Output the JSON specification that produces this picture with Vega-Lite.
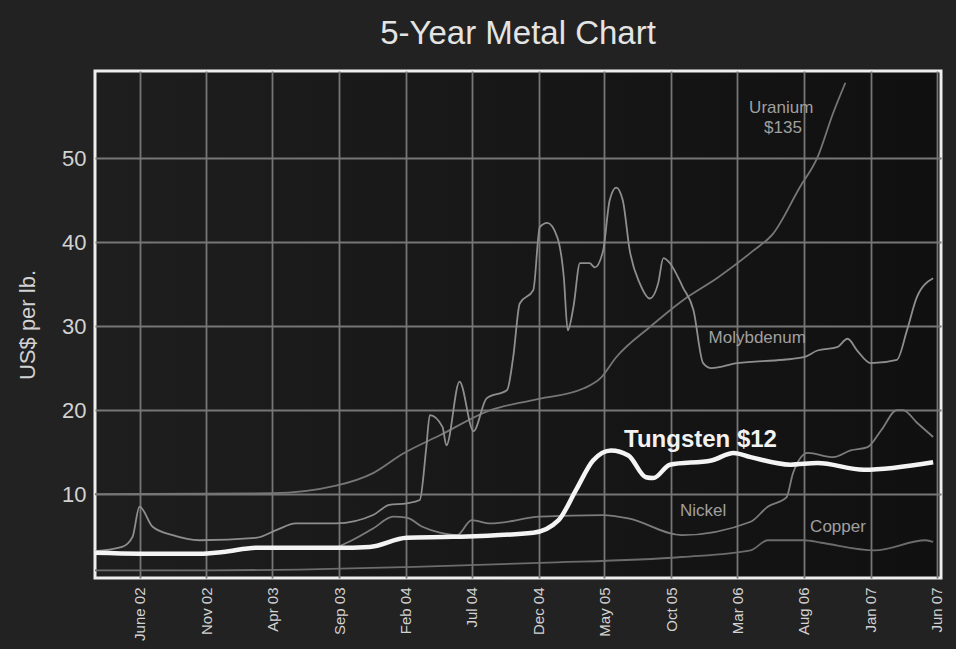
{
  "$schema": "https://vega.github.io/schema/vega-lite/v6.json",
  "autosize": {"type": "none"},
  "width": 846,
  "height": 507,
  "padding": {"left": 95, "top": 71, "right": 15, "bottom": 71},
  "background": "#222222",
  "title": {"text": "5-Year Metal Chart", "fontSize": 33, "font": "Liberation Sans", "fontWeight": "normal", "color": "#e4e4e4", "offset": 20, "anchor": "middle"},
  "config": {
    "view": {"stroke": "#eeeeee", "strokeWidth": 3, "fill": {"gradient": "linear", "x1": 0, "y1": 0, "x2": 1, "y2": 0, "stops": [{"offset": 0, "color": "#1e1e1e"}, {"offset": 1, "color": "#101010"}]}},
    "axis": {"labelFont": "Liberation Sans", "titleFont": "Liberation Sans", "gridColor": "#767676", "gridWidth": 1.8, "gridOpacity": 1, "domain": false, "ticks": false, "labelColor": "#d2d2d2", "titleColor": "#d2d2d2"}
  },
  "datasets": {
    "series": [
      {"metal": "Uranium", "date": "2002-02-19", "value": 10.0},
      {"metal": "Uranium", "date": "2003-04-01", "value": 10.1},
      {"metal": "Uranium", "date": "2003-08-25", "value": 11.0},
      {"metal": "Uranium", "date": "2003-11-18", "value": 12.5},
      {"metal": "Uranium", "date": "2004-01-25", "value": 14.8},
      {"metal": "Uranium", "date": "2004-04-19", "value": 17.0},
      {"metal": "Uranium", "date": "2004-08-13", "value": 20.0},
      {"metal": "Uranium", "date": "2004-11-19", "value": 21.2},
      {"metal": "Uranium", "date": "2005-03-15", "value": 22.6},
      {"metal": "Uranium", "date": "2005-04-22", "value": 23.8},
      {"metal": "Uranium", "date": "2005-05-28", "value": 26.3},
      {"metal": "Uranium", "date": "2005-08-13", "value": 29.9},
      {"metal": "Uranium", "date": "2005-10-28", "value": 33.1},
      {"metal": "Uranium", "date": "2006-01-16", "value": 35.8},
      {"metal": "Uranium", "date": "2006-04-07", "value": 39.0},
      {"metal": "Uranium", "date": "2006-05-22", "value": 41.0},
      {"metal": "Uranium", "date": "2006-07-22", "value": 46.5},
      {"metal": "Uranium", "date": "2006-09-01", "value": 50.1},
      {"metal": "Uranium", "date": "2006-10-07", "value": 55.4},
      {"metal": "Uranium", "date": "2006-11-04", "value": 59.0},

      {"metal": "Molybdenum", "date": "2002-02-19", "value": 3.2},
      {"metal": "Molybdenum", "date": "2002-04-22", "value": 3.7},
      {"metal": "Molybdenum", "date": "2002-05-16", "value": 4.9},
      {"metal": "Molybdenum", "date": "2002-06-01", "value": 8.5},
      {"metal": "Molybdenum", "date": "2002-07-01", "value": 6.1},
      {"metal": "Molybdenum", "date": "2002-08-16", "value": 5.1},
      {"metal": "Molybdenum", "date": "2002-10-16", "value": 4.5},
      {"metal": "Molybdenum", "date": "2003-02-25", "value": 4.8},
      {"metal": "Molybdenum", "date": "2003-04-10", "value": 5.7},
      {"metal": "Molybdenum", "date": "2003-05-25", "value": 6.5},
      {"metal": "Molybdenum", "date": "2003-08-25", "value": 6.5},
      {"metal": "Molybdenum", "date": "2003-11-18", "value": 7.5},
      {"metal": "Molybdenum", "date": "2003-12-25", "value": 8.7},
      {"metal": "Molybdenum", "date": "2004-02-03", "value": 8.9},
      {"metal": "Molybdenum", "date": "2004-03-04", "value": 9.3},
      {"metal": "Molybdenum", "date": "2004-03-19", "value": 15.6},
      {"metal": "Molybdenum", "date": "2004-03-27", "value": 19.4},
      {"metal": "Molybdenum", "date": "2004-04-25", "value": 18.0},
      {"metal": "Molybdenum", "date": "2004-05-04", "value": 15.8},
      {"metal": "Molybdenum", "date": "2004-06-03", "value": 23.4},
      {"metal": "Molybdenum", "date": "2004-07-05", "value": 17.5},
      {"metal": "Molybdenum", "date": "2004-08-04", "value": 21.4},
      {"metal": "Molybdenum", "date": "2004-09-20", "value": 22.4},
      {"metal": "Molybdenum", "date": "2004-10-04", "value": 26.3},
      {"metal": "Molybdenum", "date": "2004-10-19", "value": 32.7},
      {"metal": "Molybdenum", "date": "2004-11-19", "value": 34.3},
      {"metal": "Molybdenum", "date": "2004-12-04", "value": 41.8},
      {"metal": "Molybdenum", "date": "2004-12-21", "value": 42.3},
      {"metal": "Molybdenum", "date": "2005-01-13", "value": 40.6},
      {"metal": "Molybdenum", "date": "2005-01-28", "value": 35.8},
      {"metal": "Molybdenum", "date": "2005-02-06", "value": 29.5},
      {"metal": "Molybdenum", "date": "2005-02-19", "value": 32.3},
      {"metal": "Molybdenum", "date": "2005-03-06", "value": 37.5},
      {"metal": "Molybdenum", "date": "2005-03-28", "value": 37.5},
      {"metal": "Molybdenum", "date": "2005-04-09", "value": 37.0},
      {"metal": "Molybdenum", "date": "2005-04-28", "value": 39.0},
      {"metal": "Molybdenum", "date": "2005-05-13", "value": 45.0},
      {"metal": "Molybdenum", "date": "2005-05-28", "value": 46.5},
      {"metal": "Molybdenum", "date": "2005-06-12", "value": 45.0},
      {"metal": "Molybdenum", "date": "2005-06-28", "value": 39.0},
      {"metal": "Molybdenum", "date": "2005-07-21", "value": 35.1},
      {"metal": "Molybdenum", "date": "2005-08-13", "value": 33.3},
      {"metal": "Molybdenum", "date": "2005-09-01", "value": 35.1},
      {"metal": "Molybdenum", "date": "2005-09-13", "value": 38.1},
      {"metal": "Molybdenum", "date": "2005-09-28", "value": 37.5},
      {"metal": "Molybdenum", "date": "2005-10-28", "value": 34.6},
      {"metal": "Molybdenum", "date": "2005-11-21", "value": 31.9},
      {"metal": "Molybdenum", "date": "2005-12-13", "value": 25.6},
      {"metal": "Molybdenum", "date": "2006-01-01", "value": 25.0},
      {"metal": "Molybdenum", "date": "2006-03-01", "value": 25.6},
      {"metal": "Molybdenum", "date": "2006-06-15", "value": 26.0},
      {"metal": "Molybdenum", "date": "2006-08-01", "value": 26.3},
      {"metal": "Molybdenum", "date": "2006-09-01", "value": 27.1},
      {"metal": "Molybdenum", "date": "2006-10-16", "value": 27.5},
      {"metal": "Molybdenum", "date": "2006-11-09", "value": 28.5},
      {"metal": "Molybdenum", "date": "2006-12-01", "value": 27.1},
      {"metal": "Molybdenum", "date": "2007-01-01", "value": 25.6},
      {"metal": "Molybdenum", "date": "2007-03-02", "value": 26.0},
      {"metal": "Molybdenum", "date": "2007-03-25", "value": 29.5},
      {"metal": "Molybdenum", "date": "2007-04-17", "value": 33.5},
      {"metal": "Molybdenum", "date": "2007-05-24", "value": 35.7},

      {"metal": "Nickel", "date": "2002-02-19", "value": 3.0},
      {"metal": "Nickel", "date": "2002-10-16", "value": 2.9},
      {"metal": "Nickel", "date": "2003-02-25", "value": 3.5},
      {"metal": "Nickel", "date": "2003-08-25", "value": 3.7},
      {"metal": "Nickel", "date": "2003-09-19", "value": 4.2},
      {"metal": "Nickel", "date": "2003-11-18", "value": 5.9},
      {"metal": "Nickel", "date": "2004-01-03", "value": 7.3},
      {"metal": "Nickel", "date": "2004-02-03", "value": 7.2},
      {"metal": "Nickel", "date": "2004-03-10", "value": 6.1},
      {"metal": "Nickel", "date": "2004-04-19", "value": 5.4},
      {"metal": "Nickel", "date": "2004-05-28", "value": 5.1},
      {"metal": "Nickel", "date": "2004-07-01", "value": 6.9},
      {"metal": "Nickel", "date": "2004-08-13", "value": 6.5},
      {"metal": "Nickel", "date": "2004-12-04", "value": 7.3},
      {"metal": "Nickel", "date": "2005-04-28", "value": 7.5},
      {"metal": "Nickel", "date": "2005-06-25", "value": 7.1},
      {"metal": "Nickel", "date": "2005-10-25", "value": 5.1},
      {"metal": "Nickel", "date": "2006-04-01", "value": 6.7},
      {"metal": "Nickel", "date": "2006-05-10", "value": 8.5},
      {"metal": "Nickel", "date": "2006-06-22", "value": 9.6},
      {"metal": "Nickel", "date": "2006-07-07", "value": 12.5},
      {"metal": "Nickel", "date": "2006-08-10", "value": 14.9},
      {"metal": "Nickel", "date": "2006-10-07", "value": 14.4},
      {"metal": "Nickel", "date": "2006-11-16", "value": 15.2},
      {"metal": "Nickel", "date": "2006-12-25", "value": 15.6},
      {"metal": "Nickel", "date": "2007-01-25", "value": 17.6},
      {"metal": "Nickel", "date": "2007-03-02", "value": 20.0},
      {"metal": "Nickel", "date": "2007-03-16", "value": 20.0},
      {"metal": "Nickel", "date": "2007-04-17", "value": 18.5},
      {"metal": "Nickel", "date": "2007-05-24", "value": 16.8},

      {"metal": "Copper", "date": "2002-02-19", "value": 0.9},
      {"metal": "Copper", "date": "2002-10-16", "value": 0.9},
      {"metal": "Copper", "date": "2003-06-01", "value": 1.0},
      {"metal": "Copper", "date": "2004-02-03", "value": 1.3},
      {"metal": "Copper", "date": "2004-12-04", "value": 1.8},
      {"metal": "Copper", "date": "2005-10-25", "value": 2.5},
      {"metal": "Copper", "date": "2006-04-01", "value": 3.3},
      {"metal": "Copper", "date": "2006-05-10", "value": 4.5},
      {"metal": "Copper", "date": "2006-08-01", "value": 4.5},
      {"metal": "Copper", "date": "2006-09-10", "value": 4.2},
      {"metal": "Copper", "date": "2007-01-10", "value": 3.3},
      {"metal": "Copper", "date": "2007-05-07", "value": 4.5},
      {"metal": "Copper", "date": "2007-05-24", "value": 4.3},

      {"metal": "Tungsten", "date": "2002-02-19", "value": 3.0},
      {"metal": "Tungsten", "date": "2002-06-01", "value": 2.9},
      {"metal": "Tungsten", "date": "2002-10-16", "value": 2.9},
      {"metal": "Tungsten", "date": "2002-12-09", "value": 3.1},
      {"metal": "Tungsten", "date": "2003-02-25", "value": 3.6},
      {"metal": "Tungsten", "date": "2003-08-25", "value": 3.6},
      {"metal": "Tungsten", "date": "2003-11-10", "value": 3.7},
      {"metal": "Tungsten", "date": "2004-02-03", "value": 4.8},
      {"metal": "Tungsten", "date": "2004-05-19", "value": 4.9},
      {"metal": "Tungsten", "date": "2004-11-19", "value": 5.4},
      {"metal": "Tungsten", "date": "2005-01-16", "value": 6.9},
      {"metal": "Tungsten", "date": "2005-02-25", "value": 10.5},
      {"metal": "Tungsten", "date": "2005-04-05", "value": 14.0},
      {"metal": "Tungsten", "date": "2005-05-16", "value": 15.2},
      {"metal": "Tungsten", "date": "2005-06-25", "value": 14.6},
      {"metal": "Tungsten", "date": "2005-08-04", "value": 12.0},
      {"metal": "Tungsten", "date": "2005-08-21", "value": 11.9},
      {"metal": "Tungsten", "date": "2005-09-28", "value": 13.5},
      {"metal": "Tungsten", "date": "2006-01-01", "value": 14.0},
      {"metal": "Tungsten", "date": "2006-02-21", "value": 14.9},
      {"metal": "Tungsten", "date": "2006-04-01", "value": 14.4},
      {"metal": "Tungsten", "date": "2006-07-01", "value": 13.5},
      {"metal": "Tungsten", "date": "2006-09-01", "value": 13.7},
      {"metal": "Tungsten", "date": "2006-12-16", "value": 12.9},
      {"metal": "Tungsten", "date": "2007-05-24", "value": 13.8}
    ],
    "labels": [
      {"label": "Uranium", "date": "2006-06-10", "value": 56.0},
      {"label": "$135", "date": "2006-06-14", "value": 53.6},
      {"label": "Molybdenum", "date": "2006-04-16", "value": 28.6},
      {"label": "Nickel", "date": "2005-12-13", "value": 8.0},
      {"label": "Copper", "date": "2006-10-18", "value": 6.1}
    ],
    "headline": [
      {"label": "Tungsten $12", "date": "2005-12-07", "value": 16.4}
    ]
  },
  "encoding": {
    "x": {
      "field": "date", "type": "temporal",
      "scale": {"type": "utc", "domain": [{"year": 2002, "month": 2, "date": 19, "utc": true}, {"year": 2007, "month": 6, "date": 11, "utc": true}]},
      "axis": {
        "title": null,
        "values": [
          {"year": 2002, "month": 6, "date": 1, "utc": true},
          {"year": 2002, "month": 11, "date": 1, "utc": true},
          {"year": 2003, "month": 4, "date": 1, "utc": true},
          {"year": 2003, "month": 9, "date": 1, "utc": true},
          {"year": 2004, "month": 2, "date": 1, "utc": true},
          {"year": 2004, "month": 7, "date": 1, "utc": true},
          {"year": 2004, "month": 12, "date": 1, "utc": true},
          {"year": 2005, "month": 5, "date": 1, "utc": true},
          {"year": 2005, "month": 10, "date": 1, "utc": true},
          {"year": 2006, "month": 3, "date": 1, "utc": true},
          {"year": 2006, "month": 8, "date": 1, "utc": true},
          {"year": 2007, "month": 1, "date": 1, "utc": true},
          {"year": 2007, "month": 6, "date": 1, "utc": true}
        ],
        "labelExpr": "utcFormat(datum.value, '%Y-%m') == '2002-06' ? 'June 02' : utcFormat(datum.value, '%b %y')",
        "labelAngle": 270,
        "labelAlign": "right",
        "labelBaseline": "middle",
        "labelFontSize": 15,
        "labelPadding": 9,
        "labelOverlap": false,
        "labelBound": false
      }
    },
    "y": {
      "field": "value", "type": "quantitative",
      "scale": {"domain": [0, 60.4], "nice": false, "zero": false},
      "axis": {"title": "US$ per lb.", "values": [10, 20, 30, 40, 50], "labelFontSize": 22, "labelPadding": 9, "titleFontSize": 22, "titleFontWeight": "normal", "titlePadding": 22}
    }
  },
  "layer": [
    {
      "data": {"name": "series"},
      "transform": [{"filter": "datum.metal != 'Tungsten'"}],
      "mark": {"type": "line", "interpolate": "monotone", "strokeWidth": 1.8},
      "encoding": {
        "detail": {"field": "metal"},
        "color": {"field": "metal", "type": "nominal", "legend": null, "scale": {"domain": ["Uranium", "Molybdenum", "Nickel", "Copper"], "range": ["#767676", "#8e8e8e", "#7c7c7c", "#6c6c6c"]}}
      }
    },
    {
      "data": {"name": "series"},
      "transform": [{"filter": "datum.metal == 'Tungsten'"}],
      "mark": {"type": "line", "interpolate": "monotone", "strokeWidth": 4.5, "color": "#f4f4f4"},
      "encoding": {}
    },
    {
      "data": {"name": "labels"},
      "mark": {"type": "text", "font": "Liberation Sans", "fontSize": 17, "color": "#a0a0a0", "align": "center", "baseline": "middle"},
      "encoding": {"text": {"field": "label"}}
    },
    {
      "data": {"name": "headline"},
      "mark": {"type": "text", "font": "Liberation Sans", "fontSize": 24, "fontWeight": "bold", "color": "#f2f2f2", "align": "center", "baseline": "middle"},
      "encoding": {"text": {"field": "label"}}
    }
  ]
}
